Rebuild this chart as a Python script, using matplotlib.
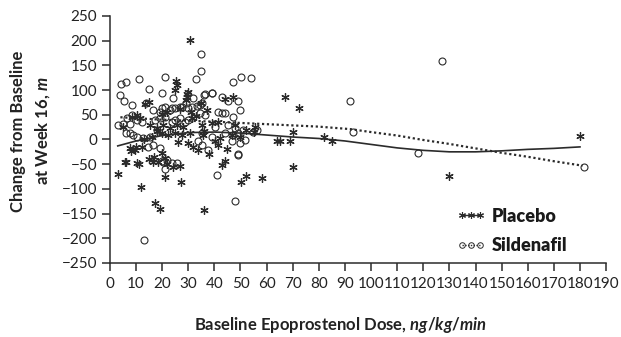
import matplotlib
matplotlib.use("Agg")
import matplotlib.pyplot as plt
from matplotlib.lines import Line2D
import numpy as np

plt.rcParams['font.family'] = ['Lato', 'DejaVu Sans']
plt.rcParams['mathtext.fontset'] = 'custom'
plt.rcParams['mathtext.it'] = 'Lato:bold:italic'
plt.rcParams['mathtext.rm'] = 'Lato:bold'

# placebo points (dose, change)
placebo_dose = [30.7, 3.2, 6, 11, 12, 17.2, 19.2, 36, 27.2, 21, 43, 44, 50.2, 52, 58.4,
                8, 10, 15, 17, 22, 24, 27, 64, 67, 72.4, 70, 65.3, 69, 70, 82, 85, 130, 180,
                15, 25.3, 25.8, 30, 29, 29.6, 44, 47, 35,
                13.4, 8.3, 10.2, 11.5, 15.3, 17.9, 20.4, 23, 25.6, 28.1, 19.8, 22.4, 24.9, 27.5,
                7.7, 9.6, 12.1, 19.8, 21, 16.6, 18.5, 5.7, 10.2,
                31.3, 35.1, 39, 41.5, 55.6, 30.7, 35.8, 46.6, 30, 33.9, 40.2, 41.5,
                22, 27, 31, 33, 37, 5, 13, 16, 18, 26, 32, 38, 45, 48, 52, 55, 36, 42, 50,
                29.5, 25, 20]
placebo_chg = [201, -70, -46, -50, -97, -129, -141, -143, -87, -75, -52, -43, -87, -73, -77,
               -23, -15, -40, -35, -50, -55, -53, -4, 85, 63, 16, -4, -3, -55, 6, -4, -74, 7,
               76, 118, 110, 97, 80, 87, 81, 85, 74,
               72, 46, 50, 43, 29, 23, 29, 23, 29, 26, 13, 9, 13, 9,
               -18, -21, -15, -28, -38, -45, -45, -45, -47,
               43, 29, 33, 36, 26, 13, 9, 9, -8, -21, -4, -11,
               55, 62, 55, 48, 60, 25, 0, 5, 18, -5, -15, -30, -20, 30, 20, 15, 18, 2, 5,
               92, 100, 52]

# sildenafil points (dose, change)
sild_dose = [127, 92, 93, 118, 181.4, 13, 48, 41, 49, 20, 21, 35, 35, 33, 21, 11, 4.1, 6.1,
             47.3, 50.1, 54, 4, 15, 20, 24, 39, 36, 5.5, 8.3, 14, 16.6, 19.8, 23.6, 27.7, 30,
             33.5, 34.5, 42.8, 49.8, 45.3, 49.2,
             19, 21, 23, 25, 27, 29, 6.4, 8.3, 10.2, 12.1, 17.2, 19.2, 21, 23.6, 25, 26.8, 28.7,
             7.7, 10.2, 12.8, 15.3, 14.7, 16.6, 19.2, 20.4, 21.7, 23.6, 25.6,
             31.3, 35.1, 36.4, 41.5, 44, 47.3, 40.2, 45.3, 47.9, 51.1, 54.9, 56.2, 35.1, 39, 44,
             47.3, 49.2, 33.9, 35.1, 37.7, 46.6, 49.8, 51.7, 49.2,
             5, 7.7, 6, 9, 36.4, 39, 42.8, 31.9, 34.5, 3, 18, 30]
sild_chg = [159, 77, 16, -28, -56, -203, -125, -72, -31, -43, -60, 174, 139, 122, 127, 122, 112, 116,
            116, 126, 124, 91, 102, 94, 83, 94, 90, 77, 70, 74, 60, 63, 63, 65, 63,
            68, 53, 54, 60, 77, 77,
            56, 66, 60, 63, 66, 73, 43, 50, 39, 36, 39, 43, 46, 36, 39, 43, 36,
            13, 6, 2, 6, -15, -11, -18, -45, -41, -48, -48,
            66, 73, 50, 56, 53, 46, 26, 29, 23, 19, 16, 19, 13, 6, 13,
            9, 13, -4, -11, -21, -4, -8, -1, -30,
            31, 31, 13, 10, 92, 95, 87, 83, 70, 30, 20, 40]

# smoothed curves
curve_dose = [3, 10, 20, 30, 40, 50, 60, 70, 80, 90, 100, 110, 120, 130, 140, 150, 160, 170, 180]
placebo_fit = [-13, -3, 8, 14, 15, 13, 9, 5, 2, -3, -10, -17, -22, -25, -25, -23, -20, -18, -15]
sild_fit_dose = [4, 20, 40, 60, 80, 92, 100, 110, 120, 130, 140, 150, 160, 170, 181]
sild_fit = [45, 40, 36, 31, 26, 21, 15, 8, -1, -9, -18, -27, -35, -44, -53]

fig = plt.figure(figsize=(6.21, 3.37), dpi=100)
ax = fig.add_axes([0.177, 0.2196, 0.799, 0.733])

ink = '#2b2b2b'
ax.plot(sild_dose, sild_chg, linestyle='none', marker='o', markersize=5,
        markerfacecolor='none', markeredgecolor=ink, markeredgewidth=0.8)
ax.plot(placebo_dose, placebo_chg, linestyle='none', marker=(6, 2, 0), markersize=6,
        markeredgecolor=ink, markeredgewidth=0.9)
ax.plot(curve_dose, placebo_fit, color=ink, linewidth=1.2)
ax.plot(sild_fit_dose, sild_fit, color=ink, linewidth=1.6, linestyle=(0, (1, 1.2)))

ax.set_xlim(0, 190)
ax.set_ylim(-250, 250)
ax.set_xticks(np.arange(0, 191, 10))
ax.set_yticks(np.arange(-250, 251, 50))
ax.set_yticklabels([str(v).replace('-', '\u2212') for v in range(-250, 251, 50)])
ax.spines['top'].set_visible(False)
ax.spines['right'].set_visible(False)
for s in ['left', 'bottom']:
    ax.spines[s].set_linewidth(1.1)
    ax.spines[s].set_color(ink)
ax.tick_params(axis='both', direction='out', length=6, width=1.1, color=ink,
               labelsize=11, labelcolor='#222222')
ax.tick_params(axis='x', pad=4)
ax.tick_params(axis='y', pad=3)

ax.set_xlabel('Baseline Epoprostenol Dose, $ng/kg/min$', fontsize=12,
              fontweight='bold', color='#222222')
ax.xaxis.set_label_coords(0.464, -0.21)
ax.set_ylabel('Change from Baseline\nat Week 16, $m$', fontsize=12,
              fontweight='bold', color='#222222', linespacing=1.5)
ax.yaxis.set_label_coords(-0.117, 0.534)

handles = [
    Line2D([], [], color=ink, linewidth=1.0, marker=(6, 2, 0), markersize=5,
           markeredgewidth=0.8),
    Line2D([], [], color=ink, linewidth=1.0, linestyle=(0, (1, 1)), marker='o',
           markersize=4, markerfacecolor='none', markeredgewidth=0.7),
]
leg = ax.legend(handles, ['Placebo', 'Sildenafil'], loc='center left',
                bbox_to_anchor=(0.665, 0.13), frameon=False, numpoints=3,
                handlelength=1.6, handletextpad=0.35, labelspacing=0.7,
                prop={'size': 13, 'weight': 'heavy'})
for t in leg.get_texts():
    t.set_color('#1a1a1a')

fig.savefig('out.png', dpi=100)
